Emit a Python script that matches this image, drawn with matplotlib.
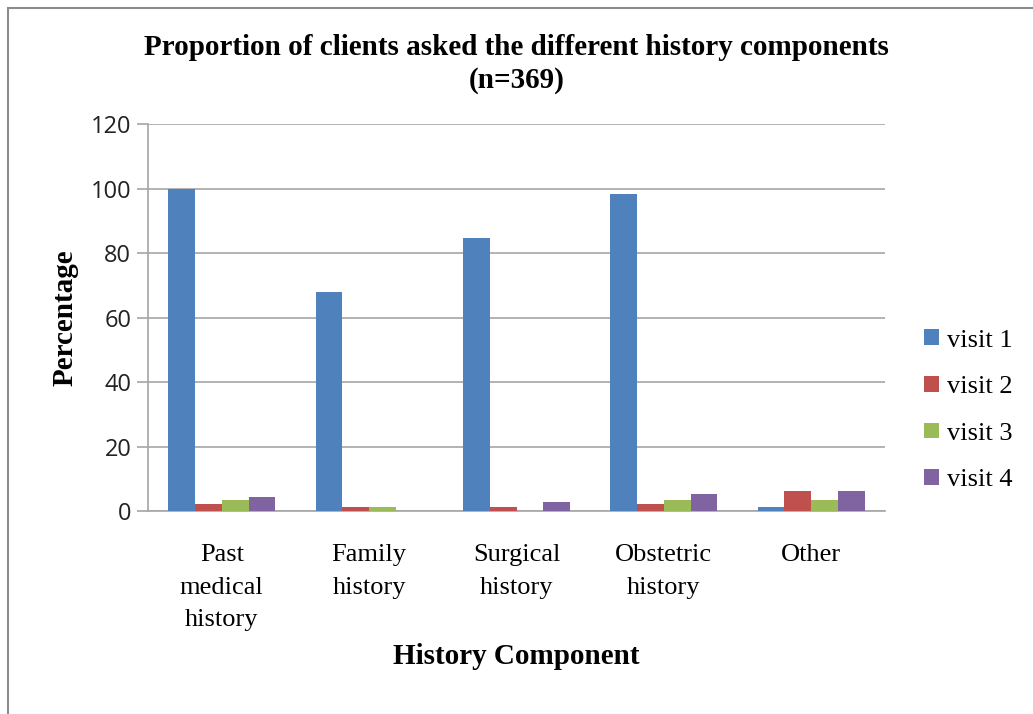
import numpy as np
import matplotlib
matplotlib.use("Agg")
import matplotlib.pyplot as plt
from matplotlib.patches import Rectangle

# Data
categories = ["Past\nmedical\nhistory", "Family\nhistory", "Surgical\nhistory",
              "Obstetric\nhistory", "Other"]
visit_1 = [100, 68, 84.7, 98.2, 1.1]
visit_2 = [2.3, 1.1, 1.1, 2.3, 6.2]
visit_3 = [3.3, 1.1, 0, 3.3, 3.3]
visit_4 = [4.2, 0, 2.7, 5.2, 6.2]
series_names = ["visit 1", "visit 2", "visit 3", "visit 4"]
colors = ["#4F81BD", "#C0504D", "#9BBB59", "#8064A2"]
y_ticks = [0, 20, 40, 60, 80, 100, 120]

serif = "Liberation Serif"

fig = plt.figure(figsize=(10.33, 7.14), dpi=100)
ax = fig.add_axes([0.1433, 0.2843, 0.7134, 0.5420])

# outer chart frame
fig.patches.append(Rectangle((0.008, -0.02), 1.1, 1.009, transform=fig.transFigure,
                             fill=False, edgecolor="#8c8c8c", linewidth=1.5))

x = np.arange(len(categories))
width = 1 / 5.5
for i, (vals, name, c) in enumerate(zip([visit_1, visit_2, visit_3, visit_4],
                                          series_names, colors)):
    ax.bar(x + (i - 1.5) * width, vals, width, color=c, label=name, zorder=3)

ax.set_xlim(-0.5, len(categories) - 0.5)
ax.set_ylim(0, 120)
ax.set_yticks(y_ticks)
ax.set_yticklabels([str(t) for t in y_ticks], fontsize=17, family="Open Sans",
                   color="#222222")
ax.yaxis.grid(True, color="#a6a6a6", linewidth=1.2, zorder=0)
ax.tick_params(axis="y", length=8, color="#a6a6a6", width=1.2, pad=4)
ax.set_xticks(x)
ax.set_xticklabels(categories, fontsize=19, family=serif, linespacing=1.62)
ax.tick_params(axis="x", length=0, pad=24)

for side in ["top", "right"]:
    ax.spines[side].set_visible(False)
for side in ["left", "bottom"]:
    ax.spines[side].set_color("#a6a6a6")
    ax.spines[side].set_linewidth(1.2)

ax.set_ylabel("Percentage", fontsize=21, family=serif, fontweight="bold", labelpad=9)
ax.set_xlabel("History Component", fontsize=21, family=serif, fontweight="bold",
              labelpad=8)
fig.suptitle("Proportion of clients asked the different history components\n(n=369)",
             fontsize=21, family=serif, fontweight="bold", y=0.952, linespacing=1.28)

leg = ax.legend(loc="center left", bbox_to_anchor=(1.039, 0.26), frameon=False,
                prop={"family": serif, "size": 19}, handlelength=0.55,
                handleheight=0.55, handletextpad=0.3, labelspacing=0.92,
                borderaxespad=0)

fig.savefig("out.png", dpi=100)
